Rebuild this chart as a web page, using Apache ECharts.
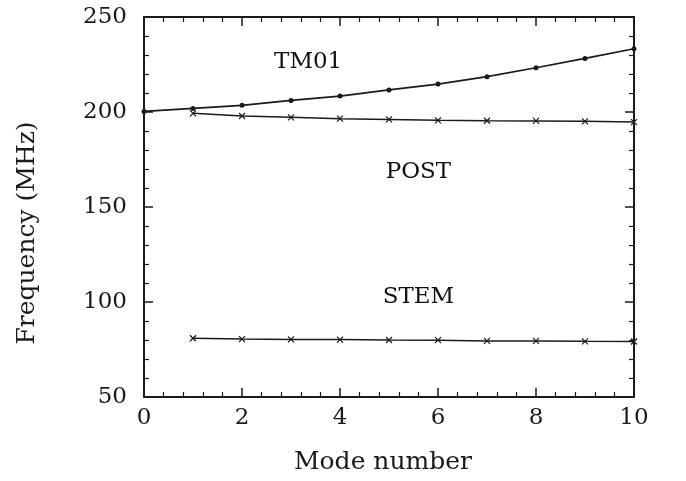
<!DOCTYPE html>
<html>
<head>
<meta charset="utf-8">
<script src="https://cdn.jsdelivr.net/npm/echarts@6/dist/echarts.min.js"></script>
<style>
html,body{margin:0;padding:0;background:#fff;}
#main{width:686px;height:481px;}
</style>
</head>
<body>
<div id="main"></div>
<script>
var modes = [0, 1, 2, 3, 4, 5, 6, 7, 8, 9, 10];
var tm01 = [200.3, 201.9, 203.5, 206.1, 208.4, 211.6, 214.7, 218.6, 223.3, 228.2, 233.3];
var postModes = [1, 2, 3, 4, 5, 6, 7, 8, 9, 10];
var post = [199.3, 197.9, 197.2, 196.5, 196.1, 195.6, 195.4, 195.3, 195.1, 194.7];
var stem = [80.9, 80.5, 80.3, 80.2, 80.0, 79.9, 79.5, 79.5, 79.3, 79.2];
var labelNames = ['TM01', 'POST', 'STEM'];
var labelX = [3.35, 5.6, 5.6];
var labelY = [226.3, 168.4, 102.6];

var myChart = echarts.init(document.getElementById('main'));

function pairs(xs, ys) {
	return xs.map(function (x, i) { return [x, ys[i]]; });
}

var cross = 'path://M0,0L10,10M10,0L0,10';
var ink = '#1a1a1a';
var tickFont = { color: ink, fontFamily: 'DejaVu Serif', fontSize: 23 };

function xAx(pos, show) {
	return {
		type: 'value', position: pos, min: 0, max: 10, interval: 2,
		axisLine: { show: true, onZero: false, lineStyle: { color: ink, width: 2 } },
		axisTick: { inside: true, length: 9, lineStyle: { color: ink, width: 1.5 } },
		minorTick: { show: true, splitNumber: 5, length: 5, lineStyle: { color: ink, width: 1.2 } },
		axisLabel: show ? Object.assign({ margin: 10 }, tickFont) : { show: false },
		splitLine: { show: false }
	};
}
function yAx(pos, show) {
	return {
		type: 'value', position: pos, min: 50, max: 250, interval: 50,
		axisLine: { show: true, onZero: false, lineStyle: { color: ink, width: 2 } },
		axisTick: { inside: true, length: 9, lineStyle: { color: ink, width: 1.5 } },
		minorTick: { show: true, splitNumber: 5, length: 5, lineStyle: { color: ink, width: 1.2 } },
		axisLabel: show ? Object.assign({ margin: 17 }, tickFont) : { show: false },
		splitLine: { show: false }
	};
}

var option = {
	backgroundColor: '#fff',
	animation: false,
	grid: { left: 144, right: 52, top: 17, bottom: 84 },
	xAxis: [xAx('bottom', true), xAx('top', false)],
	yAxis: [yAx('left', true), yAx('right', false)],
	graphic: [
		{ type: 'text', x: 383, y: 462, style: { text: 'Mode number', fill: ink, font: '25px "DejaVu Serif"', align: 'center', verticalAlign: 'middle' } },
		{ type: 'text', x: 27, y: 233, rotation: Math.PI / 2, style: { text: 'Frequency (MHz)', fill: ink, font: '25px "DejaVu Serif"', align: 'center', verticalAlign: 'middle' } }
	],
	series: [
		{
			type: 'line', name: 'TM01', data: pairs(modes, tm01),
			symbol: 'circle', symbolSize: 5,
			lineStyle: { color: ink, width: 1.7 },
			itemStyle: { color: ink }
		},
		{
			type: 'line', name: 'POST', data: pairs(postModes, post),
			symbol: cross, symbolSize: 6,
			lineStyle: { color: ink, width: 1.5 },
			itemStyle: { color: ink, borderColor: ink, borderWidth: 1.2 }
		},
		{
			type: 'line', name: 'STEM', data: pairs(postModes, stem),
			symbol: cross, symbolSize: 6,
			lineStyle: { color: ink, width: 1.5 },
			itemStyle: { color: ink, borderColor: ink, borderWidth: 1.2 }
		},
		{
			type: 'scatter', name: 'labels', symbolSize: 0,
			itemStyle: { color: ink, opacity: 1 },
			data: labelNames.map(function (n, i) { return { name: n, value: [labelX[i], labelY[i]] }; }),
			label: {
				show: true, position: 'inside', formatter: '{b}',
				fontFamily: 'DejaVu Serif', fontSize: 23, color: '#111',
				textBorderWidth: 0, opacity: 1
			},
			silent: true
		}
	]
};

myChart.setOption(option);
</script>
</body>
</html>
